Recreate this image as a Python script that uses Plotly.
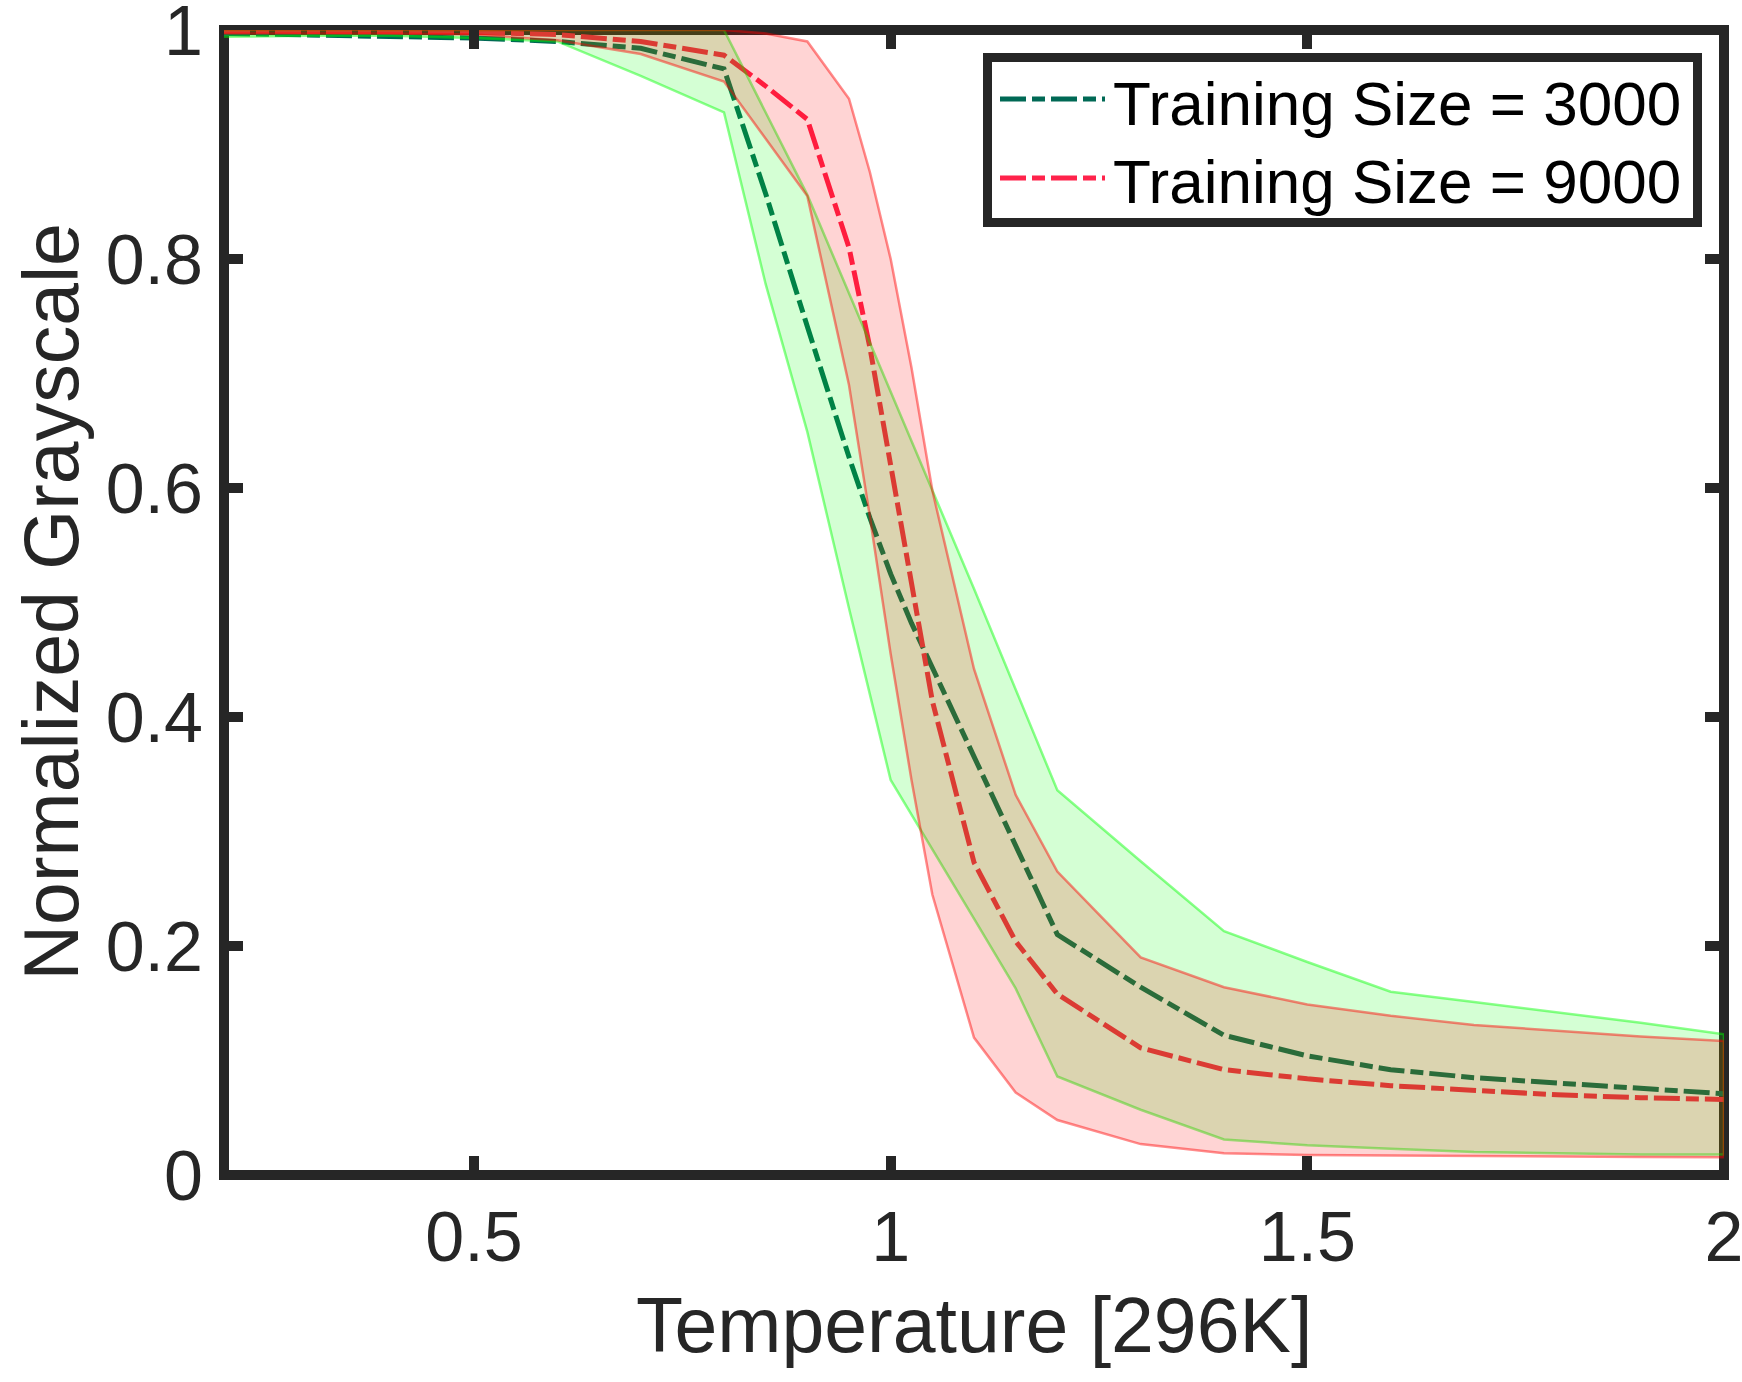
import plotly.graph_objects as go

# Temperature grid (units of 296 K)
temperature = [0.2, 0.3, 0.4, 0.5, 0.6, 0.7, 0.8, 0.85, 0.9, 0.95, 0.975, 1.0,
               1.025, 1.05, 1.1, 1.15, 1.2, 1.3, 1.4, 1.5, 1.6, 1.7, 1.8, 1.9, 2.0]

# Training size 3000: mean and band limits of the normalized grayscale
gray_3000_mean = [0.997, 0.996, 0.995, 0.993, 0.990, 0.984, 0.966, 0.857, 0.741, 0.627, 0.574, 0.525,
                  0.482, 0.443, 0.366, 0.288, 0.210, 0.164, 0.122, 0.104, 0.092, 0.085, 0.080, 0.075, 0.071]
gray_3000_low = [0.994, 0.995, 0.995, 0.993, 0.990, 0.960, 0.928, 0.778, 0.649, 0.495, 0.420, 0.345,
                 0.315, 0.285, 0.224, 0.163, 0.086, 0.057, 0.031, 0.026, 0.023, 0.020, 0.019, 0.018, 0.018]
gray_3000_high = [1.0, 1.0, 1.0, 1.0, 1.0, 1.0, 1.0, 0.928, 0.856, 0.770, 0.727, 0.684,
                  0.641, 0.598, 0.512, 0.424, 0.336, 0.274, 0.213, 0.186, 0.160, 0.151, 0.142, 0.133, 0.123]

# Training size 9000: mean and band limits of the normalized grayscale
gray_9000_mean = [0.999, 0.999, 0.999, 0.998, 0.996, 0.990, 0.978, 0.951, 0.922, 0.810, 0.723, 0.620,
                  0.514, 0.414, 0.273, 0.204, 0.158, 0.111, 0.092, 0.084, 0.078, 0.074, 0.070, 0.0675, 0.066]
gray_9000_low = [0.997, 0.997, 0.997, 0.996, 0.991, 0.979, 0.955, 0.905, 0.855, 0.690, 0.575, 0.455,
                 0.345, 0.245, 0.120, 0.072, 0.048, 0.027, 0.019, 0.0175, 0.017, 0.0165, 0.016, 0.0157, 0.0155]
gray_9000_high = [1.0, 1.0, 1.0, 1.0, 1.0, 1.0, 1.0, 0.997, 0.990, 0.940, 0.876, 0.800,
                  0.705, 0.598, 0.442, 0.332, 0.265, 0.190, 0.164, 0.149, 0.139, 0.131, 0.126, 0.121, 0.117]

series_names = ["Training Size = 3000", "Training Size = 9000"]
x_ticks = [0.5, 1, 1.5, 2]
x_tick_text = ["0.5", "1", "1.5", "2"]
y_ticks = [0, 0.2, 0.4, 0.6, 0.8, 1]
y_tick_text = ["0", "0.2", "0.4", "0.6", "0.8", "1"]

# ---- styling ----
W, H = 1742, 1382
ML, MR, MT, MB = 224, 18, 30, 207
PW, PH = W - ML - MR, H - MT - MB
INK = "#262626"
FONT = "Liberation Sans, Arial, Helvetica, sans-serif"
DASHDOT = "26px,6px,13px,6px"
GREEN_LINE = "rgb(0,105,85)"
RED_LINE = "rgb(255,35,75)"


def px(xpix):
    return (xpix - ML) / PW


def py(ypix):
    return (H - MB - ypix) / PH


fig = go.Figure()

# mean curves first, the translucent bands are laid over them
fig.add_trace(go.Scatter(x=temperature, y=gray_3000_mean, mode="lines",
                         line=dict(color=GREEN_LINE, width=5, dash=DASHDOT),
                         showlegend=False, hoverinfo="skip"))
fig.add_trace(go.Scatter(x=temperature, y=gray_9000_mean, mode="lines",
                         line=dict(color=RED_LINE, width=5, dash=DASHDOT),
                         showlegend=False, hoverinfo="skip"))

band_x = temperature + temperature[::-1]
fig.add_trace(go.Scatter(x=band_x, y=gray_3000_high + gray_3000_low[::-1],
                         mode="lines", fill="toself",
                         fillcolor="rgba(0,255,0,0.17)",
                         line=dict(color="rgba(0,255,0,0.45)", width=2.5),
                         showlegend=False, hoverinfo="skip"))
fig.add_trace(go.Scatter(x=band_x, y=gray_9000_high + gray_9000_low[::-1],
                         mode="lines", fill="toself",
                         fillcolor="rgba(255,0,0,0.17)",
                         line=dict(color="rgba(255,0,0,0.45)", width=2.5),
                         showlegend=False, hoverinfo="skip"))

shapes = [
    # axes box
    dict(type="rect", xref="paper", yref="paper", x0=0, x1=1, y0=0, y1=1,
         line=dict(color=INK, width=10), layer="below"),
    # legend box
    dict(type="rect", xref="paper", yref="paper",
         x0=px(987.5), x1=px(1697.5), y0=py(57.5), y1=py(222.5),
         line=dict(color=INK, width=9), fillcolor="white", layer="above"),
    dict(type="line", xref="paper", yref="paper",
         x0=px(1000), x1=px(1105), y0=py(99), y1=py(99),
         line=dict(color=GREEN_LINE, width=5, dash=DASHDOT), layer="above"),
    dict(type="line", xref="paper", yref="paper",
         x0=px(1000), x1=px(1105), y0=py(178), y1=py(178),
         line=dict(color=RED_LINE, width=5, dash=DASHDOT), layer="above"),
]

annotations = [
    dict(text=series_names[0], xref="paper", yref="paper", x=px(1111), y=py(103),
         xanchor="left", yanchor="middle", showarrow=False,
         font=dict(family=FONT, size=62, color="black")),
    dict(text=series_names[1], xref="paper", yref="paper", x=px(1111), y=py(181),
         xanchor="left", yanchor="middle", showarrow=False,
         font=dict(family=FONT, size=62, color="black")),
    dict(text="Temperature [296K]", xref="paper", yref="paper", x=0.5, y=py(1325),
         xanchor="center", yanchor="middle", showarrow=False,
         font=dict(family=FONT, size=77, color=INK)),
    dict(text="Normalized Grayscale", xref="paper", yref="paper", x=px(50), y=0.5,
         xanchor="center", yanchor="middle", textangle=-90, showarrow=False,
         font=dict(family=FONT, size=77, color=INK)),
]

axis_common = dict(showgrid=False, zeroline=False, showline=False,
                   ticks="inside", ticklen=19, tickwidth=10, tickcolor=INK,
                   mirror="ticks", ticklabeloverflow="allow", automargin=False,
                   tickfont=dict(family=FONT, size=70, color=INK))

fig.update_layout(
    width=W, height=H,
    margin=dict(l=ML, r=MR, t=MT, b=MB, autoexpand=False),
    paper_bgcolor="white", plot_bgcolor="rgba(0,0,0,0)",
    xaxis=dict(range=[0.2, 2.0], tickvals=x_ticks, ticktext=x_tick_text,
               ticklabelstandoff=15, **axis_common),
    yaxis=dict(range=[0, 1], tickvals=y_ticks, ticktext=y_tick_text,
               ticklabelstandoff=20, **axis_common),
    shapes=shapes, annotations=annotations, showlegend=False,
)

fig.write_html("out.html")
